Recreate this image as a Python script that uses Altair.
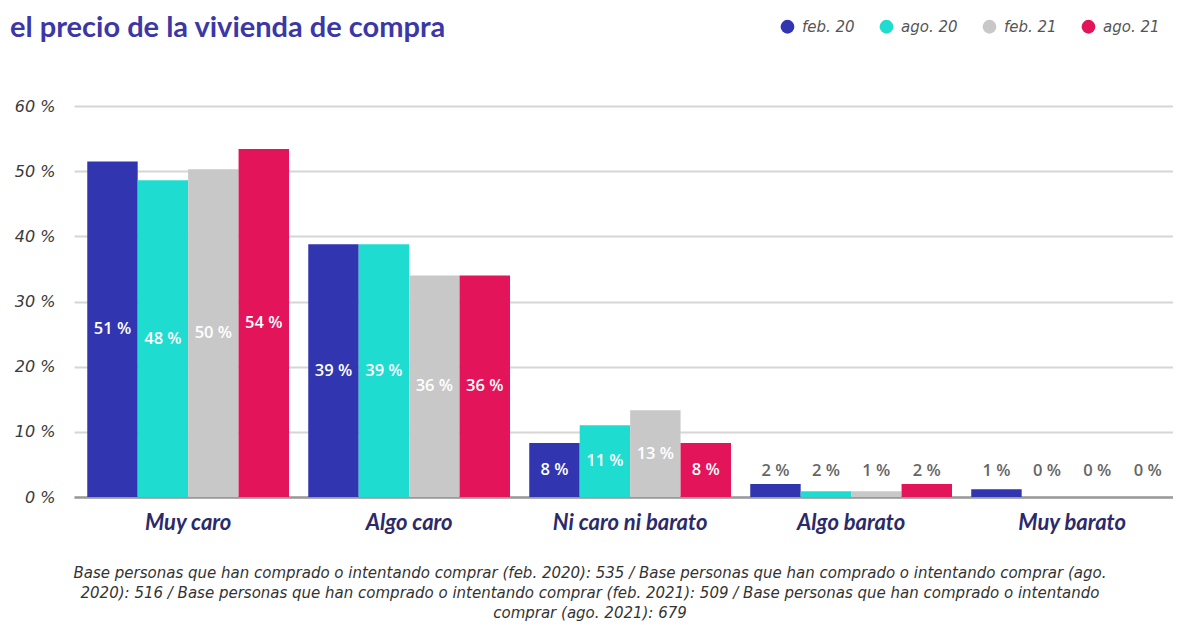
import altair as alt
import pandas as pd

categories = ["Muy caro", "Algo caro", "Ni caro ni barato", "Algo barato", "Muy barato"]
series = ["feb. 20", "ago. 20", "feb. 21", "ago. 21"]
colors = ["#3136B0", "#1FDCD0", "#C8C8C8", "#E3145A"]

# bar heights (%)
heights = {
    "feb. 20": [51.5, 38.8, 8.3, 2.0, 1.2],
    "ago. 20": [48.6, 38.8, 11.0, 0.9, 0.0],
    "feb. 21": [50.3, 34.0, 13.3, 0.9, 0.0],
    "ago. 21": [53.4, 34.0, 8.3, 2.0, 0.0],
}
# printed labels (%)
labels = {
    "feb. 20": [51, 39, 8, 2, 1],
    "ago. 20": [48, 39, 11, 2, 0],
    "feb. 21": [50, 36, 13, 1, 0],
    "ago. 21": [54, 36, 8, 2, 0],
}
y_ticks = [0, 10, 20, 30, 40, 50, 60]

title_text = "el precio de la vivienda de compra"
footnote_lines = [
    "Base personas que han comprado o intentando comprar (feb. 2020): 535 / Base personas que han comprado o intentando comprar (ago.",
    "2020): 516 / Base personas que han comprado o intentando comprar (feb. 2021): 509 / Base personas que han comprado o intentando",
    "comprar (ago. 2021): 679",
]

rows = []
for s in series:
    for i, c in enumerate(categories):
        rows.append({"cat": c, "serie": s, "value": heights[s][i], "label": f"{labels[s][i]} %"})
df = pd.DataFrame(rows)

W, H = 1099, 391

x_enc = alt.X("cat:N", sort=categories,
              scale=alt.Scale(paddingInner=0.087, paddingOuter=0.03, align=1),
              axis=alt.Axis(title=None, labelAngle=0, labelFont="Lato", labelFontSize=22,
                            labelFontWeight="bold", labelFontStyle="italic", labelColor="#2B2A6B",
                            labelPadding=15, ticks=False, domainColor="#9A9A9A", domainWidth=2.5,
                            grid=False))
xo_enc = alt.XOffset("serie:N", sort=series, scale=alt.Scale(paddingInner=0, paddingOuter=0))

base = alt.Chart(df)

bars = base.mark_bar().encode(
    x=x_enc,
    xOffset=xo_enc,
    y=alt.Y("value:Q", scale=alt.Scale(domain=[0, 60], nice=False),
            axis=alt.Axis(title=None, values=y_ticks, labelExpr="datum.value + ' %'",
                          labelFont="DejaVu Sans", labelFontStyle="italic", labelFontSize=16,
                          labelColor="#3A3A3A", labelPadding=19, ticks=False, domain=False,
                          gridColor="#D6D6D6", gridWidth=2)),
    color=alt.Color("serie:N", sort=series,
                    scale=alt.Scale(domain=series, range=colors),
                    legend=alt.Legend(title=None, orient="none", direction="horizontal",
                                      legendX=706, legendY=-87, symbolType="circle",
                                      symbolSize=190, symbolStrokeWidth=0,
                                      labelFont="DejaVu Sans", labelFontStyle="italic",
                                      labelFontSize=15, labelColor="#555555",
                                      labelOffset=7, columnPadding=24)),
)

texts = base.transform_calculate(
    ly="datum.value >= 5 ? datum.value / 2 : 4"
).mark_text(font="Open Sans", fontSize=16.5, fontWeight=600, baseline="middle").encode(
    x=alt.X("cat:N", sort=categories),
    xOffset=alt.XOffset("serie:N", sort=series),
    y=alt.Y("ly:Q"),
    text="label:N",
    color=alt.condition("datum.value >= 5", alt.value("#FFFFFF"), alt.value("#666666")),
)

title_mark = alt.Chart(alt.Data(values=[{"t": title_text}])).mark_text(
    align="left", baseline="alphabetic", font="Lato", fontSize=29, fontWeight="bold", color="#3C37A6"
).encode(x=alt.value(-64), y=alt.value(-69), text="t:N")

foot_mark = alt.Chart(alt.Data(values=[{"t": "\n".join(footnote_lines)}])).mark_text(
    align="center", baseline="middle", font="DejaVu Sans", fontSize=15, fontStyle="italic",
    color="#333333", lineBreak="\n", lineHeight=20
).encode(x=alt.value(516), y=alt.value(467), text="t:N")

chart = alt.layer(bars, texts, title_mark, foot_mark).properties(
    width=W, height=H,
    autosize=alt.AutoSizeParams(type="none"),
    padding={"left": 66, "top": 98, "right": 0, "bottom": 126},
).configure_view(stroke=None)

chart.save("out.html", embed_options={"renderer": "svg", "actions": False})
